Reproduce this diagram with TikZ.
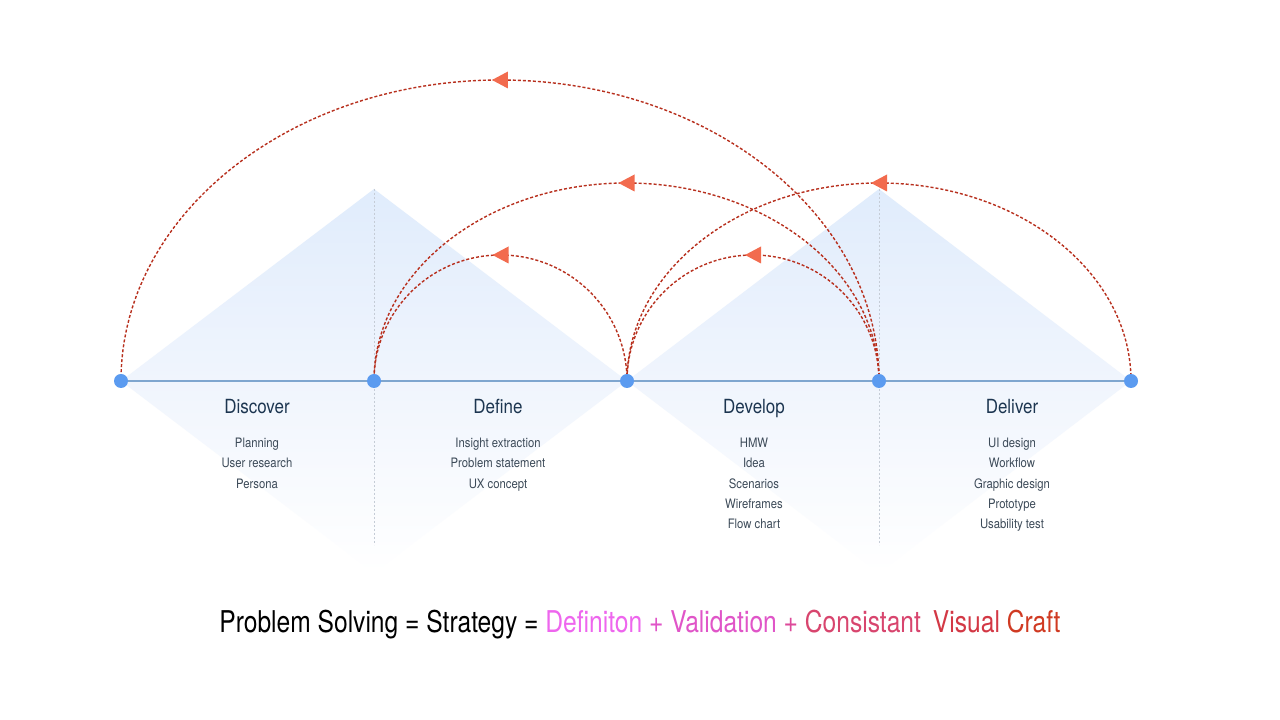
\documentclass[tikz,border=0pt]{standalone}
\usepackage{fontspec}
\setmainfont{TeX Gyre Heros}[FakeStretch=0.87]
\newfontfamily\formulafont{TeX Gyre Heros}[FakeStretch=0.82]
\usetikzlibrary{arrows.meta, decorations.markings, positioning}
\definecolor{dotblue}{HTML}{5B9BF0}
\definecolor{lineblue}{HTML}{7FA6CF}
\definecolor{loopred}{HTML}{B8301E}
\definecolor{tipred}{HTML}{F26B4E}
\definecolor{navy}{HTML}{1C3550}
\definecolor{itemgray}{HTML}{3C4A58}
\definecolor{fanblue}{HTML}{E0ECFC}
\definecolor{fanpale}{HTML}{F0F5FD}
\definecolor{guide}{HTML}{C5CCD6}
\definecolor{defcol}{HTML}{EE66EE}
\definecolor{valcol}{HTML}{E055C8}
\definecolor{pluscol}{HTML}{DD4A9A}
\definecolor{concol}{HTML}{D8456E}
\definecolor{viscol}{HTML}{D33845}
\definecolor{craftcol}{HTML}{D03A22}
\pgfdeclarelayer{back}
\pgfsetlayers{back,main}
\tikzstyle{dot} = [circle, fill=dotblue, inner sep=0pt, minimum size=14pt]
\tikzstyle{phase} = [font=\fontsize{19.5}{22}\selectfont, text=navy, inner sep=0pt, anchor=base]
\tikzstyle{items} = [font=\fontsize{13}{20.3}\selectfont, text=itemgray, align=center, anchor=north, inner sep=0pt]
\tikzstyle{feedback} = [draw=loopred, line width=1.4pt, dash pattern=on 3pt off 2pt,
postaction={decorate},
decoration={markings, mark=at position 0.5 with {\fill[tipred] (8pt,0pt) -- (-8pt,8.5pt) -- (-8pt,-8.5pt) -- cycle;}}]
\tikzstyle{guideline} = [draw=guide, line width=0.8pt, dash pattern=on 2pt off 2pt]

\begin{document}
\begin{tikzpicture}[x=1pt,y=1pt]

\useasboundingbox (0,0) rectangle (1280,720);

\node (d1) [dot] at (121,339) {};
\node (d2) [dot] at (374,339) {};
\node (d3) [dot] at (627,339) {};
\node (d4) [dot] at (879,339) {};
\node (d5) [dot] at (1131,339) {};

\begin{pgfonlayer}{back}
\fill[white] (0,0) rectangle (1280,720);
\shade[top color=fanblue, bottom color=fanpale] (d1.center) -- (374,531) -- (d3.center) -- cycle;
\shade[top color=fanpale, bottom color=white] (d1.center) -- (374,147) -- (d3.center) -- cycle;
\shade[top color=fanblue, bottom color=fanpale] (d3.center) -- (879,531) -- (d5.center) -- cycle;
\shade[top color=fanpale, bottom color=white] (d3.center) -- (879,147) -- (d5.center) -- cycle;

\draw [guideline] ([yshift=192pt]d2.center) -- ([yshift=-164pt]d2.center);
\draw [guideline] ([yshift=192pt]d4.center) -- ([yshift=-164pt]d4.center);

\draw [lineblue, line width=2pt] (d1) -- (d2) -- (d3) -- (d4) -- (d5);

\draw [feedback] (d4.center) arc[start angle=0, end angle=180, x radius=379pt, y radius=301pt];
\draw [feedback] (d4.center) arc[start angle=0, end angle=180, x radius=252.5pt, y radius=198pt];
\draw [feedback] (d3.center) arc[start angle=0, end angle=180, x radius=126.5pt, y radius=126pt];
\draw [feedback] (d5.center) arc[start angle=0, end angle=180, x radius=252pt, y radius=198pt];
\draw [feedback] (d4.center) arc[start angle=0, end angle=180, x radius=126pt, y radius=126pt];
\end{pgfonlayer}

\node (discover) [phase] at (257,306) {Discover};
\node (define) [phase] at (498,306) {Define};
\node (develop) [phase] at (754,306) {Develop};
\node (deliver) [phase] at (1012,306) {Deliver};

\node (discoveritems) [items] at (257,282) {Planning\\User research\\Persona};
\node (defineitems) [items] at (498,282) {Insight extraction\\Problem statement\\UX concept};
\node (developitems) [items] at (754,282) {HMW\\Idea\\Scenarios\\Wireframes\\Flow chart};
\node (deliveritems) [items] at (1012,282) {UI design\\Workflow\\Graphic design\\Prototype\\Usability test};

\node (formula) [font=\formulafont\fontsize{30}{34}\selectfont] at (640,95) {Problem Solving = Strategy = \textcolor{defcol}{Definiton} \textcolor{valcol}{+ Validation} \textcolor{pluscol}{+} \textcolor{concol}{Consistant}\hspace{0.4em}\textcolor{viscol}{Visual} \textcolor{craftcol}{Craft}};

\end{tikzpicture}
\end{document}
